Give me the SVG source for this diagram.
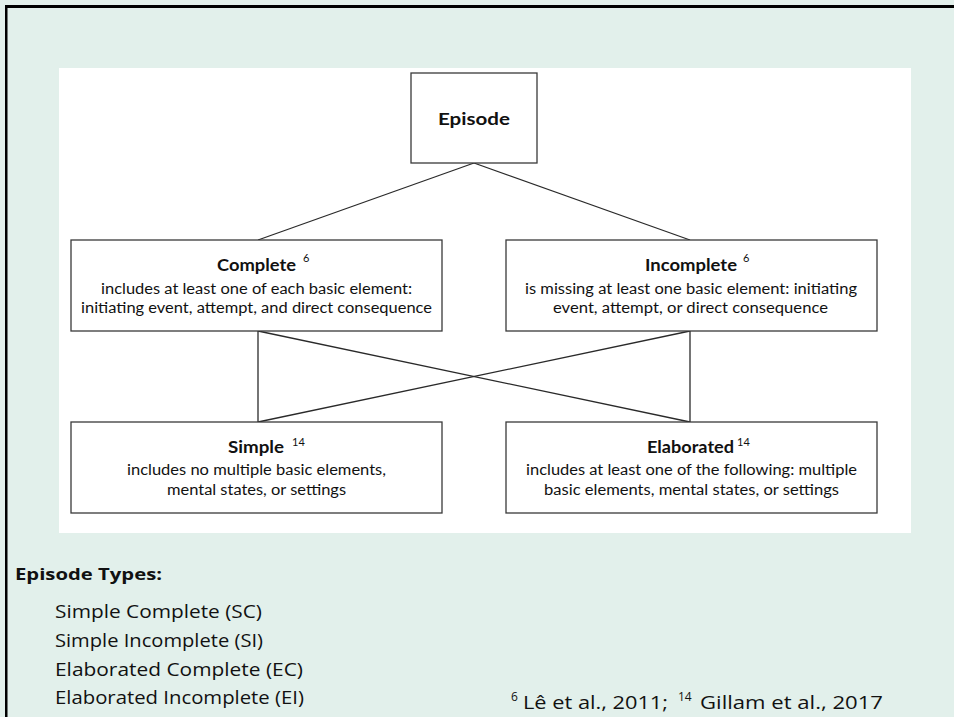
<svg xmlns="http://www.w3.org/2000/svg" width="954" height="717" viewBox="0 0 954 717">
<style>
.box{fill:#fff;stroke:#3a3a3a;stroke-width:1.3}
.conn line{stroke:#2a2a2a;stroke-width:1.3}
.t{font-family:Lato,"Open Sans","Liberation Sans",sans-serif;fill:#111;text-anchor:middle}
.h{font-size:17px;font-weight:bold}
.b{font-size:15.5px}
.sup{font-family:Lato,"Liberation Sans",sans-serif;font-size:11px;fill:#111}
.g{font-family:"Open Sans",Lato,"Liberation Sans",sans-serif;fill:#111}
</style>
<rect x="0" y="0" width="954" height="717" fill="#e2f0eb"/>
<rect x="5" y="5" width="949" height="3" fill="#000"/>
<rect x="5" y="5" width="2.5" height="712" fill="#000"/>
<rect x="59" y="68" width="852" height="465" fill="#fff"/>
<g class="conn">
<line x1="474" y1="163" x2="258" y2="240"/>
<line x1="474" y1="163" x2="690" y2="240"/>
<line x1="258" y1="331" x2="258" y2="422"/>
<line x1="258" y1="331" x2="690" y2="422"/>
<line x1="690" y1="331" x2="690" y2="422"/>
<line x1="690" y1="331" x2="258" y2="422"/>
</g>
<g id="episode">
<rect class="box" x="411" y="73" width="126" height="90"/>
<text class="t h" x="474" y="125" textLength="72" lengthAdjust="spacingAndGlyphs">Episode</text>
</g>
<g id="complete">
<rect class="box" x="71" y="240" width="371" height="91"/>
<text class="t h" x="256.5" y="271" textLength="79" lengthAdjust="spacingAndGlyphs">Complete</text>
<text class="sup" x="303" y="262">6</text>
<text class="t b" x="256.5" y="294" textLength="311" lengthAdjust="spacingAndGlyphs">includes at least one of each basic element:</text>
<text class="t b" x="256.5" y="313" textLength="351" lengthAdjust="spacingAndGlyphs">initiating event, attempt, and direct consequence</text>
</g>
<g id="incomplete">
<rect class="box" x="506" y="240" width="371" height="91"/>
<text class="t h" x="691" y="271" textLength="92" lengthAdjust="spacingAndGlyphs">Incomplete</text>
<text class="sup" x="743" y="262">6</text>
<text class="t b" x="691" y="294" textLength="332" lengthAdjust="spacingAndGlyphs">is missing at least one basic element: initiating</text>
<text class="t b" x="690.5" y="313" textLength="275" lengthAdjust="spacingAndGlyphs">event, attempt, or direct consequence</text>
</g>
<g id="simple">
<rect class="box" x="71" y="422" width="371" height="91"/>
<text class="t h" x="256" y="453" textLength="56" lengthAdjust="spacingAndGlyphs">Simple</text>
<text class="sup" x="292" y="446">14</text>
<text class="t b" x="256.5" y="475" textLength="259" lengthAdjust="spacingAndGlyphs">includes no multiple basic elements,</text>
<text class="t b" x="256.5" y="495" textLength="179" lengthAdjust="spacingAndGlyphs">mental states, or settings</text>
</g>
<g id="elaborated">
<rect class="box" x="506" y="422" width="371" height="91"/>
<text class="t h" x="690.5" y="453" textLength="87" lengthAdjust="spacingAndGlyphs">Elaborated</text>
<text class="sup" x="737" y="446">14</text>
<text class="t b" x="691.5" y="475" textLength="331" lengthAdjust="spacingAndGlyphs">includes at least one of the following: multiple</text>
<text class="t b" x="691.5" y="495" textLength="295" lengthAdjust="spacingAndGlyphs">basic elements, mental states, or settings</text>
</g>
<g id="legend">
<text class="g" x="15" y="580" font-size="16" font-weight="bold" textLength="147" lengthAdjust="spacingAndGlyphs">Episode Types:</text>
<text class="g" x="55" y="618" font-size="19" textLength="207" lengthAdjust="spacingAndGlyphs">Simple Complete (SC)</text>
<text class="g" x="55" y="647" font-size="19" textLength="208" lengthAdjust="spacingAndGlyphs">Simple Incomplete (SI)</text>
<text class="g" x="55" y="676" font-size="19" textLength="248" lengthAdjust="spacingAndGlyphs">Elaborated Complete (EC)</text>
<text class="g" x="55" y="704" font-size="19" textLength="249" lengthAdjust="spacingAndGlyphs">Elaborated Incomplete (EI)</text>
</g>
<g id="citation">
<text class="g" x="511" y="701" font-size="12">6</text>
<text class="g" x="523" y="709" font-size="19" textLength="145" lengthAdjust="spacingAndGlyphs">Lê et al., 2011;</text>
<text class="g" x="678" y="701" font-size="12">14</text>
<text class="g" x="700" y="709" font-size="19" textLength="183" lengthAdjust="spacingAndGlyphs">Gillam et al., 2017</text>
</g>
</svg>
